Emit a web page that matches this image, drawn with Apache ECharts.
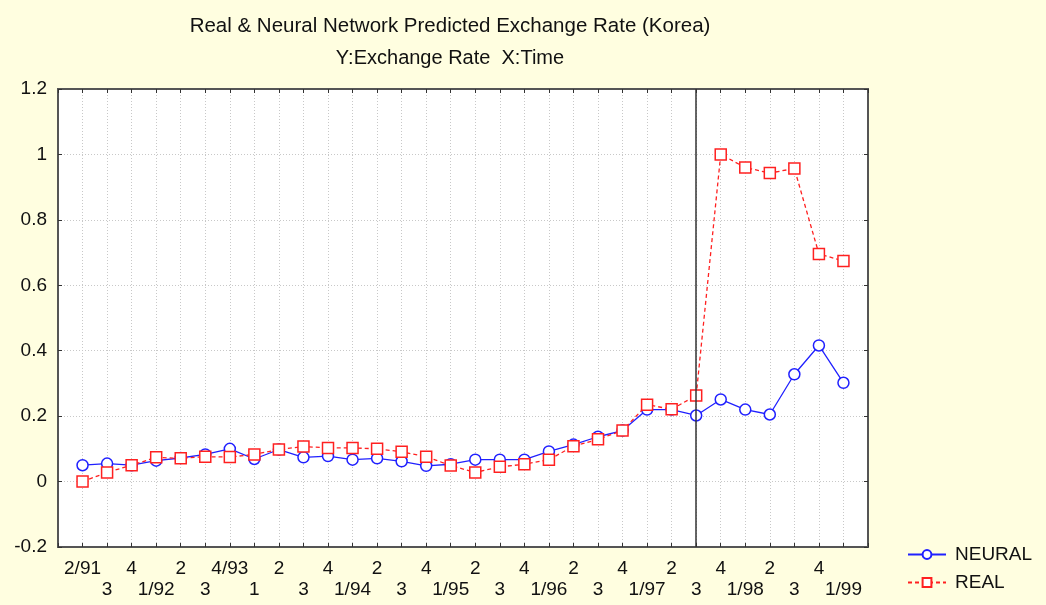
<!DOCTYPE html>
<html>
<head>
<meta charset="utf-8">
<script src="https://cdn.jsdelivr.net/npm/echarts@6/dist/echarts.min.js"></script>
<style>
  html, body { margin: 0; padding: 0; background: #fffee0; }
  #chart { width: 1046px; height: 605px; }
</style>
</head>
<body>
<div id="chart"></div>
<script>
// quarter labels along the x axis (2/91 .. 1/99)
var quarterLabels = ['2/91','3','4','1/92','2','3','4/93','1','2','3','4','1/94','2','3','4','1/95',
                     '2','3','4','1/96','2','3','4','1/97','2','3','4','1/98','2','3','4','1/99'];
// network prediction
var neuralValues = [0.050,0.055,0.050,0.064,0.072,0.083,0.100,0.069,0.098,0.074,0.078,0.067,0.071,0.062,0.048,0.053,
                    0.067,0.067,0.067,0.092,0.113,0.137,0.156,0.220,0.220,0.202,0.251,0.220,0.205,0.328,0.416,0.302];
// actual rate
var realValues = [0.000,0.028,0.050,0.074,0.071,0.076,0.075,0.083,0.098,0.107,0.103,0.103,0.100,0.091,0.076,0.049,
                  0.028,0.045,0.053,0.067,0.108,0.129,0.156,0.235,0.221,0.263,1.000,0.960,0.943,0.957,0.696,0.674];
var splitIndex = 25; // vertical marker line (3/97)
var yTicks = [-0.2, 1.2, 0.2];

var fontName = 'Liberation Sans';

var toPairs = function (arr) {
    return arr.map(function (v, i) { return [i, v]; });
};

var xLabel = function (v) {
    var i = Math.round(v);
    if (i < 0 || i >= quarterLabels.length) return '';
    return (i % 2) ? '\n' + quarterLabels[i] : quarterLabels[i];
};

// frame axes (top / right) only carry ticks
var frameAxis = function (pos) {
    return {
        type: 'value',
        position: pos,
        axisLine: { show: true, onZero: false, lineStyle: { color: '#555', width: 2 } },
        axisTick: { show: true, inside: true, length: 4, lineStyle: { color: '#333' } },
        axisLabel: { show: false },
        splitLine: { show: false }
    };
};

var topAxis = frameAxis('top');
topAxis.min = -1; topAxis.max = quarterLabels.length; topAxis.interval = 1;
var rightAxis = frameAxis('right');
rightAxis.min = yTicks[0]; rightAxis.max = yTicks[1]; rightAxis.interval = yTicks[2];

var option = {
    backgroundColor: '#fffee0',
    animation: false,
    title: {
        text: 'Real & Neural Network Predicted Exchange Rate (Korea)',
        subtext: 'Y:Exchange Rate  X:Time',
        left: 445,
        top: 11,
        textAlign: 'center',
        itemGap: 11,
        textStyle: { fontFamily: fontName, fontSize: 20.5, fontWeight: 'normal', color: '#111' },
        subtextStyle: { fontFamily: fontName, fontSize: 20, color: '#111' }
    },
    legend: {
        orient: 'vertical',
        left: 902,
        top: 540,
        itemWidth: 38,
        itemHeight: 11,
        itemGap: 9,
        textStyle: { fontFamily: fontName, fontSize: 19, color: '#111', padding: [0, 0, 0, 4] },
        data: ['NEURAL', 'REAL']
    },
    grid: {
        left: 58,
        right: 178,
        top: 89,
        bottom: 58,
        show: true,
        backgroundColor: '#fff',
        borderColor: '#555',
        borderWidth: 2
    },
    xAxis: [{
        type: 'value',
        min: -1,
        max: quarterLabels.length,
        interval: 1,
        axisLine: { show: true, onZero: false, lineStyle: { color: '#555', width: 2 } },
        axisTick: { show: true, inside: true, length: 4, lineStyle: { color: '#333' } },
        axisLabel: {
            formatter: xLabel,
            fontFamily: fontName,
            fontSize: 19,
            color: '#111',
            lineHeight: 21,
            margin: 11,
            showMinLabel: true,
            showMaxLabel: true
        },
        splitLine: { show: true, lineStyle: { color: '#c8c8c8', type: [1, 2] } }
    }, topAxis],
    yAxis: [{
        type: 'value',
        min: yTicks[0],
        max: yTicks[1],
        interval: yTicks[2],
        axisLine: { show: true, onZero: false, lineStyle: { color: '#555', width: 2 } },
        axisTick: { show: true, inside: true, length: 4, lineStyle: { color: '#333' } },
        axisLabel: { fontFamily: fontName, fontSize: 19, color: '#111', margin: 11 },
        splitLine: { show: true, lineStyle: { color: '#c8c8c8', type: [1, 2] } }
    }, rightAxis],
    series: [{
        name: 'NEURAL',
        type: 'line',
        data: toPairs(neuralValues),
        symbol: 'circle',
        symbolSize: 11,
        color: '#2020ff',
        lineStyle: { color: '#2020ff', width: 1.3 },
        itemStyle: { color: '#fff', borderColor: '#2020ff', borderWidth: 1.5 },
        z: 3,
        markLine: {
            silent: true,
            symbol: 'none',
            label: { show: false },
            lineStyle: { color: '#333', type: 'solid', width: 1.5 },
            data: [{ xAxis: splitIndex }]
        }
    }, {
        name: 'REAL',
        type: 'line',
        data: toPairs(realValues),
        symbol: 'rect',
        symbolSize: 11,
        color: '#ff2020',
        lineStyle: { color: '#ff2020', width: 1.3, type: [4, 3] },
        itemStyle: { color: '#fff', borderColor: '#ff2020', borderWidth: 1.5 },
        z: 4
    }]
};

var chart = echarts.init(document.getElementById('chart'));
chart.setOption(option);
</script>
</body>
</html>
